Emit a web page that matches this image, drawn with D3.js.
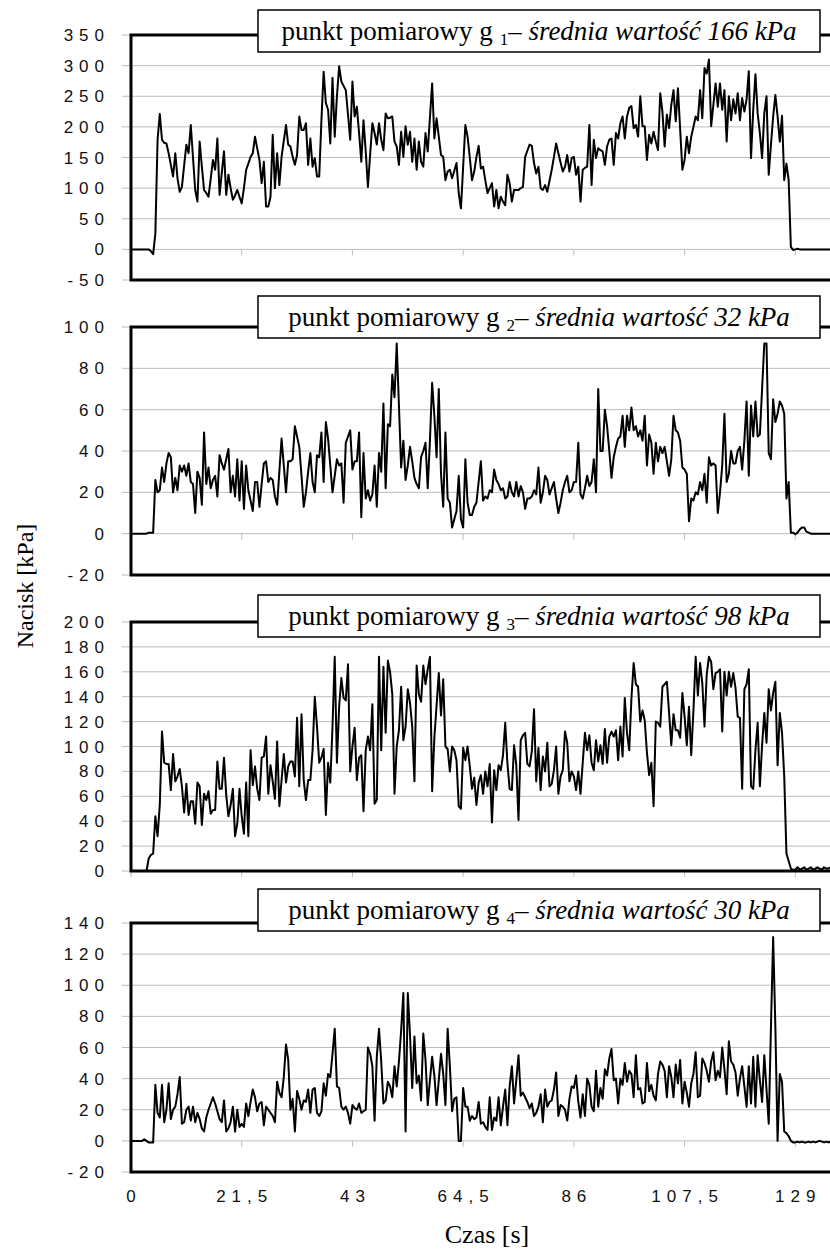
<!DOCTYPE html>
<html>
<head>
<meta charset="utf-8">
<script src="https://cdn.jsdelivr.net/npm/d3@7/dist/d3.min.js"></script>
<style>
  body { margin: 0; background: #ffffff; }
  svg { display: block; }
</style>
</head>
<body>
<div id="chart"></div>
<script>

// recorder sampling step [s], tick labels every 50 samples
const dt = 0.43;

const xTicks = [0, 21.5, 43, 64.5, 86, 107.5, 129];

const yTicks1 = [-50, 0, 50, 100, 150, 200, 250, 300, 350];
const yTicks2 = [-20, 0, 20, 40, 60, 80, 100];
const yTicks3 = [0, 20, 40, 60, 80, 100, 120, 140, 160, 180, 200];
const yTicks4 = [-20, 0, 20, 40, 60, 80, 100, 120, 140];

const subscripts = ['1', '2', '3', '4'];
const means = [166, 32, 98, 30];

// pressure [kPa], measuring point g1
const g1 = [
    0, 0, 0, 0, 0, 0, 0, 0, 0, -3,
    -8, 26, 179, 221, 179, 174, 173, 157, 138, 119,
    157, 116, 94, 102, 137, 171, 157, 203, 150, 97,
    78, 176, 135, 97, 92, 86, 115, 146, 130, 181,
    89, 125, 160, 89, 122, 100, 81, 88, 97, 86,
    75, 100, 130, 140, 151, 157, 184, 165, 146, 108,
    143, 70, 70, 86, 187, 100, 157, 105, 151, 177,
    203, 171, 168, 151, 138, 154, 217, 195, 195, 206,
    138, 181, 135, 149, 119, 119, 211, 290, 239, 228,
    173, 280, 184, 250, 299, 274, 267, 260, 220, 179,
    274, 217, 233, 190, 143, 211, 160, 102, 155, 206,
    190, 171, 206, 179, 162, 222, 214, 215, 217, 176,
    168, 138, 192, 151, 201, 171, 192, 143, 181, 130,
    176, 143, 135, 190, 160, 215, 271, 181, 214, 184,
    154, 151, 113, 127, 130, 116, 128, 141, 92,
    67, 135, 203, 184, 150, 113, 127, 151, 169, 132,
    135, 113, 92, 100, 108, 70, 97, 67, 86, 78,
    72, 122, 108, 78, 97, 97, 97, 100, 102, 151,
    161, 171, 169, 141, 124, 135, 100, 97, 105, 94,
    112, 130, 151, 173, 157, 142, 127, 135, 154, 127,
    149, 151, 122, 135, 78, 130, 133, 135, 203, 105,
    179, 149, 165, 162, 160, 138, 168, 179, 181, 138,
    190, 181, 206, 217, 181, 217, 231, 234, 198, 203,
    184, 250, 201, 201, 146, 187, 173, 192, 176, 162,
    255, 225, 168, 220, 198, 236, 260, 209, 263, 196,
    130, 146, 184, 157, 184, 200, 217, 211, 260, 214,
    296, 287, 310, 201, 236, 271, 233, 271, 228, 260,
    176, 250, 211, 245, 222, 255, 211, 247, 225, 245,
    291, 149, 228, 286, 222, 190, 149, 222, 250, 122,
    171, 217, 252, 217, 176, 218, 113, 140, 113, 4,
    -1, 0, 1, 0, 0, 0, 0, 0, 0, 0, 0, 0, 0, 0, 0, 0, 0, 0
];

// pressure [kPa], measuring point g2
const g2 = [
    0, 0, 0, 0, 0, 0, 0, 0, 0.5, 0.5, 0.5,
    26, 20, 21, 32, 25, 34, 39, 37, 20, 27,
    21, 33, 30, 33, 28, 34, 25, 24, 10, 30,
    27, 14, 49, 24, 32, 22, 26, 28, 18, 38,
    34, 31, 36, 41, 20, 28, 18, 36, 16, 35,
    12, 33, 21, 16, 11, 25, 25, 13, 24, 34,
    35, 25, 27, 26, 18, 14, 30, 46, 33, 20,
    35, 35, 36, 52, 47, 42, 28, 13, 20, 30,
    39, 25, 20, 38, 37, 49, 25, 54, 46, 33,
    20, 28, 36, 33, 34, 15, 44, 47, 50, 31,
    35, 35, 49, 8, 39, 17, 21, 16, 19, 33,
    13, 39, 30, 63, 22, 53, 52, 77, 66, 92,
    62, 32, 45, 26, 33, 42, 35, 27, 24, 22,
    37, 40, 44, 22, 45, 73, 57, 37, 70, 29,
    13, 49, 17, 15, 3, 7, 11, 28,
    7, 3, 36, 15, 9, 9, 13, 15, 25, 35,
    16, 18, 17, 21, 20, 31, 26, 24, 21, 22,
    17, 18, 25, 20, 18, 25, 18, 23, 20, 12,
    17, 17, 18, 21, 19, 32, 15, 20, 28, 26,
    19, 22, 25, 17, 10, 15, 21, 25, 28, 20,
    21, 25, 25, 44, 19, 17, 22, 28, 23, 25,
    36, 20, 70, 40, 40, 60, 52, 40, 27, 37,
    42, 46, 47, 57, 42, 57, 50, 61, 50, 52,
    47, 50, 45, 57, 33, 48, 44, 29, 44, 35,
    42, 39, 42, 35, 28, 36, 57, 50, 49, 45,
    32, 31, 29, 6, 17, 16, 20, 19, 25, 21,
    29, 15, 37, 33, 34, 33, 10, 20, 33, 58,
    25, 29, 40, 34, 34, 40, 42, 31, 45, 64,
    28, 62, 47, 64, 47, 48, 70, 92, 92, 39,
    36, 65, 54, 58, 64, 62, 58, 17, 25, 0.5,
    0.5, -0.3, 0.5, 2, 3, 3, 1, 0.5, 0, 0, 0, 0, 0, 0, 0, 0, 0, 0
];

// pressure [kPa], measuring point g3
const g3 = [
    0, 0, 0, 0, 0, 0, 0, 0,
    10, 13, 14, 44, 28, 53, 112, 87, 86, 86,
    65, 94, 72, 76, 82, 68, 47, 70, 45, 56,
    56, 38, 71, 68, 37, 62, 57, 64, 46, 49,
    49, 88, 66, 66, 91, 61, 44, 53, 66, 28,
    38, 66, 44, 30, 71, 28, 97, 69, 84, 66,
    57, 91, 92, 108, 62, 85, 72, 58, 104, 52,
    73, 94, 71, 84, 88, 88, 76, 123, 68, 126,
    73, 57, 73, 73, 97, 140, 116, 87, 91, 98,
    45, 87, 71, 116, 172, 87, 132, 155, 139, 137,
    166, 80, 100, 115, 73, 91, 93, 48, 97, 108,
    97, 134, 54, 57, 172, 97, 164, 111, 169, 160,
    142, 62, 100, 113, 148, 105, 116, 146, 135, 116,
    72, 165, 142, 136, 165, 150, 162, 172, 64, 107,
    133, 159, 125, 154, 100, 98, 80, 100, 97, 89,
    52,
    50, 99, 89, 100, 84, 66, 75, 53, 71, 77,
    62, 80, 68, 86, 39, 81, 65, 85, 81, 93,
    119, 86, 66, 65, 101, 85, 41, 105, 109, 111,
    86, 84, 96, 130, 72, 99, 65, 92, 80, 103,
    68, 70, 81, 100, 62, 76, 81, 112, 103, 72,
    80, 76, 65, 80, 62, 87, 111, 97, 109, 87,
    81, 105, 88, 101, 86, 114, 87, 108, 112, 108,
    113, 89, 116, 92, 139, 111, 97, 139, 167, 150,
    148, 120, 129, 121, 95, 77, 87, 52, 120, 119,
    116, 148, 150, 152, 127, 101, 126, 113, 113, 107,
    143, 124, 101, 132, 93, 129, 172, 141, 167, 151,
    116, 158, 172, 168, 146, 159, 160, 162, 112, 160,
    141, 160, 148, 159, 147, 124, 123, 66, 146, 150,
    162, 68, 66, 97, 119, 68, 101, 127, 103, 146,
    129, 143, 152, 85, 127, 111, 76, 14, 8, 2,
    1, 1, 3, 1, 2, 3, 1, 2, 3, 1, 2, 3, 2, 1, 3, 2, 2, 3
];

// pressure [kPa], measuring point g4
const g4 = [
    0, 0, 0, 0, 0, 0, 1, 0, -1, -1, -1,
    36, 18, 15, 36, 12, 20, 37, 14, 20, 22,
    30, 41, 11, 12, 20, 22, 13, 22, 12, 18,
    14, 8, 6, 15, 20, 24, 28, 24, 19, 14,
    12, 26, 6, 8, 12, 22, 6, 20, 9, 11,
    9, 24, 16, 25, 33, 28, 19, 24, 25, 10,
    22, 20, 18, 16, 12, 38, 31, 28, 41, 62,
    52, 20, 27, 6, 32, 27, 20, 26, 25, 33,
    18, 33, 34, 18, 16, 19, 37, 29, 43, 41,
    56, 72, 35, 34, 22, 20, 22, 18, 11, 23,
    21, 20, 24, 18, 19, 20, 60, 56, 48, 13,
    54, 72, 51, 24, 26, 38, 35, 28, 48, 35,
    51, 71, 95, 6, 95, 68, 34, 67, 37, 42,
    26, 69, 52, 23, 39, 54, 42, 23, 39, 56,
    43, 23, 72, 48, 19, 27, 28, 0,
    0, 34, 22, 22, 13, 16, 14, 15, 25, 11,
    12, 9, 7, 28, 7, 15, 13, 28, 10, 22,
    33, 10, 35, 48, 24, 39, 55, 29, 31, 28,
    25, 21, 24, 16, 18, 22, 30, 12, 33, 22,
    25, 26, 33, 44, 16, 23, 22, 20, 13, 27,
    35, 34, 42, 25, 15, 30, 16, 40, 36, 22,
    19, 45, 22, 34, 27, 46, 42, 53, 59, 39,
    40, 24, 40, 36, 50, 38, 45, 43, 28, 55,
    33, 34, 24, 25, 50, 32, 36, 29, 26, 43,
    51, 49, 45, 28, 48, 41, 28, 49, 37, 52,
    24, 38, 31, 22, 37, 43, 57, 28, 29, 53,
    50, 45, 38, 51, 57, 39, 45, 41, 60, 46,
    30, 64, 51, 49, 44, 29, 40, 48, 35, 22,
    48, 24, 54, 22, 55, 39, 25, 55, 33, 11,
    73, 131, 73, 0, 43, 38, 6, 5, 3, 0,
    -1, -1, -0.5, -1, -0.5, -1, -1, -0.5, -1, -0.5, -1, -0.5, 0, -0.5, -1, -0.5, -1, -0.5
];

const width = 830;
const height = 1254;
const left = 131;        // x of the value axis
const right = 830;       // plot runs off the page edge
const gridColor = '#bdbdbd';
const sans = '"Liberation Sans", Arimo, Arial, sans-serif';
const serif = '"Liberation Serif", Tinos, "Times New Roman", serif';
const labelSpacing = 6;  // the original tick labels are spaced out

// vertical placement of the four panels
const panels = [
    { values: g1, ticks: yTicks1, top: 35,  bottom: 280,  boxY: 10 },
    { values: g2, ticks: yTicks2, top: 327, bottom: 575,  boxY: 296 },
    { values: g3, ticks: yTicks3, top: 622, bottom: 871,  boxY: 595 },
    { values: g4, ticks: yTicks4, top: 923, bottom: 1172, boxY: 889 }
];

const svg = d3.select('#chart')
    .append('svg')
    .attr('width', width)
    .attr('height', height);

const x = d3.scaleLinear()
    .domain([0, 129])
    .range([left, 795.3]);

const fmt = v => String(v).replace('.', ',');

panels.forEach((p, k) => {
    const y = d3.scaleLinear()
        .domain([p.ticks[0], p.ticks[p.ticks.length - 1]])
        .range([p.bottom, p.top]);

    const g = svg.append('g');

    // gridlines, running through the short tick marks left of the axis
    g.selectAll('line.grid')
        .data(p.ticks)
        .enter()
        .append('line')
            .attr('x1', left - 9)
            .attr('x2', right)
            .attr('y1', d => y(d))
            .attr('y2', d => y(d))
            .attr('stroke', gridColor)
            .attr('stroke-width', 1);

    // category ticks hang below the zero line
    g.selectAll('line.xtick')
        .data(xTicks)
        .enter()
        .append('line')
            .attr('x1', d => x(d))
            .attr('x2', d => x(d))
            .attr('y1', y(0))
            .attr('y2', y(0) + 6)
            .attr('stroke', gridColor)
            .attr('stroke-width', 1);

    g.selectAll('text.ylab')
        .data(p.ticks)
        .enter()
        .append('text')
            .attr('x', 104 + labelSpacing)
            .attr('y', d => y(d) + 6)
            .attr('text-anchor', 'end')
            .attr('font-family', sans)
            .attr('font-size', 17)
            .attr('letter-spacing', labelSpacing)
            .attr('fill', '#111')
            .text(fmt);

    g.append('path')
        .datum(p.values)
        .attr('d', d3.line()
            .x((d, i) => x(i * dt))
            .y(d => y(d)))
        .attr('fill', 'none')
        .attr('stroke', '#000')
        .attr('stroke-width', 2)
        .attr('stroke-linejoin', 'round');

    // heavy frame: left, top and bottom
    g.append('path')
        .attr('d', `M${right},${p.top}H${left}V${p.bottom}H${right}`)
        .attr('fill', 'none')
        .attr('stroke', '#000')
        .attr('stroke-width', 3);

    // title box
    g.append('rect')
        .attr('x', 258)
        .attr('y', p.boxY)
        .attr('width', 562)
        .attr('height', 42)
        .attr('fill', '#fff')
        .attr('stroke', '#000')
        .attr('stroke-width', 1.5);

    const title = g.append('text')
        .attr('x', 539)
        .attr('y', p.boxY + 30)
        .attr('text-anchor', 'middle')
        .attr('font-family', serif)
        .attr('font-size', 27)
        .attr('fill', '#000');
    title.append('tspan').text('punkt pomiarowy g ');
    title.append('tspan')
        .attr('dy', 5)
        .attr('font-size', 17)
        .text(subscripts[k]);
    title.append('tspan')
        .attr('dy', -5)
        .text('– ');
    title.append('tspan')
        .attr('font-style', 'italic')
        .text(`średnia wartość ${means[k]} kPa`);
});

// time labels under the last panel
svg.selectAll('text.xlab')
    .data(xTicks)
    .enter()
    .append('text')
        .attr('x', d => x(d) + labelSpacing / 2)
        .attr('y', 1202)
        .attr('text-anchor', 'middle')
        .attr('font-family', sans)
        .attr('font-size', 17)
        .attr('letter-spacing', labelSpacing)
        .attr('fill', '#111')
        .text(fmt);

svg.append('text')
    .attr('x', 487)
    .attr('y', 1243)
    .attr('text-anchor', 'middle')
    .attr('font-family', serif)
    .attr('font-size', 26)
    .text('Czas [s]');

svg.append('text')
    .attr('transform', 'translate(33,586) rotate(-90)')
    .attr('text-anchor', 'middle')
    .attr('font-family', serif)
    .attr('font-size', 24)
    .text('Nacisk [kPa]');

</script>
</body>
</html>
